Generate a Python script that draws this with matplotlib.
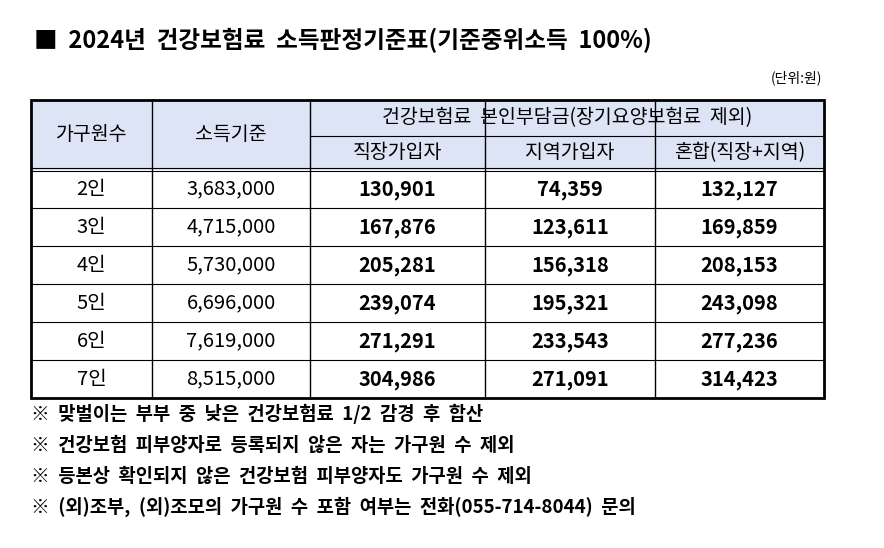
import matplotlib.pyplot as plt

plt.rcParams['font.family'] = ['Noto Sans CJK KR', 'DejaVu Sans']

# table data
households = ["2인", "3인", "4인", "5인", "6인", "7인"]
income = ["3,683,000", "4,715,000", "5,730,000", "6,696,000", "7,619,000", "8,515,000"]
employee = ["130,901", "167,876", "205,281", "239,074", "271,291", "304,986"]
regional = ["74,359", "123,611", "156,318", "195,321", "233,543", "271,091"]
mixed = ["132,127", "169,859", "208,153", "243,098", "277,236", "314,423"]
notes = [
    "※  맞벌이는  부부  중  낮은  건강보험료  1/2  감경  후  합산",
    "※  건강보험  피부양자로  등록되지  않은  자는  가구원  수  제외",
    "※  등본상  확인되지  않은  건강보험  피부양자도  가구원  수  제외",
    "※  (외)조부,  (외)조모의  가구원  수  포함  여부는  전화(055-714-8044)  문의",
]

fig = plt.figure(figsize=(8.84, 5.48), dpi=100)
ax = fig.add_axes([0, 0, 1, 1])
ax.set_xlim(0, 884)
ax.set_ylim(548, 0)
ax.axis("off")

cols = [31, 152, 310, 485, 655, 824]
top, mid, hbot = 100, 136, 170
row_h = 38
bottom = hbot + row_h * len(households)
hdr = "#dde4f5"

ax.add_patch(plt.Rectangle((cols[0], top), cols[-1] - cols[0], hbot - top, color=hdr, lw=0))

ax.text(34, 40, "■  2024년  건강보험료  소득판정기준표(기준중위소득  100%)",
        fontsize=17, fontweight="bold", va="center")
ax.text(822, 78, "(단위:원)", fontsize=10, ha="right", va="center")

# grid lines
for x in cols[1:-1]:
    ax.plot([x, x], [top, bottom], color="black", lw=1)
ax.plot([cols[2], cols[-1]], [mid, mid], color="black", lw=0.8)
ax.plot([cols[0], cols[-1]], [hbot - 2, hbot - 2], color="black", lw=0.8)
ax.plot([cols[0], cols[-1]], [hbot + 1, hbot + 1], color="black", lw=0.8)
for i in range(1, len(households)):
    y = hbot + row_h * i
    ax.plot([cols[0], cols[-1]], [y, y], color="black", lw=0.8)
ax.add_patch(plt.Rectangle((cols[0], top), cols[-1] - cols[0], bottom - top,
                           fill=False, ec="black", lw=2))

# headers
hs = 14
ax.text((cols[0] + cols[1]) / 2, (top + hbot) / 2, "가구원수", fontsize=hs, ha="center", va="center")
ax.text((cols[1] + cols[2]) / 2, (top + hbot) / 2, "소득기준", fontsize=hs, ha="center", va="center")
ax.text((cols[2] + cols[-1]) / 2, (top + mid) / 2, "건강보험료  본인부담금(장기요양보험료  제외)",
        fontsize=hs, ha="center", va="center")
for j, lab in enumerate(["직장가입자", "지역가입자", "혼합(직장+지역)"]):
    ax.text((cols[2 + j] + cols[3 + j]) / 2, (mid + hbot) / 2, lab, fontsize=hs, ha="center", va="center")

# body
bs = 14.5
for i in range(len(households)):
    y = hbot + row_h * (i + 0.5)
    ax.text((cols[0] + cols[1]) / 2, y, households[i], fontsize=bs, ha="center", va="center")
    ax.text((cols[1] + cols[2]) / 2, y, income[i], fontsize=bs, ha="center", va="center")
    for j, vals in enumerate([employee, regional, mixed]):
        ax.text((cols[2 + j] + cols[3 + j]) / 2, y, vals[i], fontsize=bs, fontweight="bold",
                ha="center", va="center")

for k, note in enumerate(notes):
    ax.text(31, 414 + 31 * k, note, fontsize=13.5, fontweight="bold", va="center")

fig.savefig("out.png", dpi=100)
